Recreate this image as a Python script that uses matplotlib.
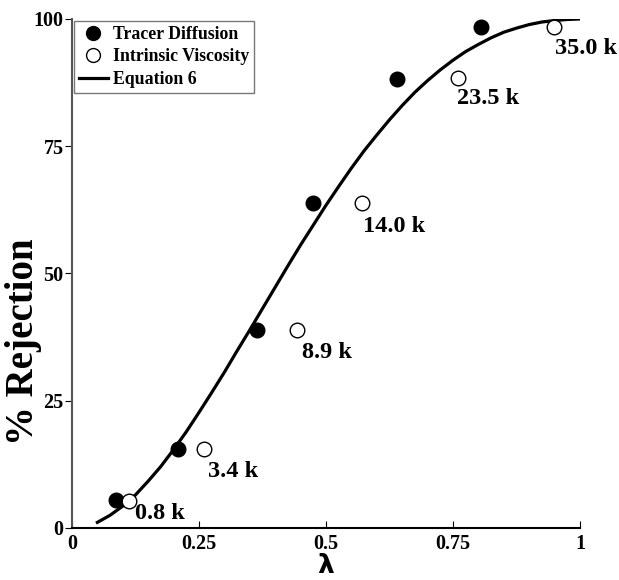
import matplotlib
matplotlib.use('Agg')
import matplotlib.pyplot as plt

plt.rcParams['font.family'] = ['Liberation Serif', 'DejaVu Serif']
plt.rcParams['font.weight'] = 'bold'

# data
tracer_x = [0.087, 0.208, 0.364, 0.474, 0.640, 0.806]
tracer_y = [5.5, 15.5, 38.8, 63.9, 88.3, 98.5]

visc_x = [0.113, 0.260, 0.442, 0.570, 0.760, 0.949]
visc_y = [5.3, 15.5, 38.9, 63.8, 88.5, 98.5]
visc_labels = ['0.8 k', '3.4 k', '8.9 k', '14.0 k', '23.5 k', '35.0 k']

# Equation 6 curve
eq_x = [0.050, 0.075, 0.100, 0.125, 0.150, 0.175, 0.200, 0.225, 0.250, 0.275,
        0.300, 0.325, 0.350, 0.375, 0.400, 0.425, 0.450, 0.475, 0.500, 0.525,
        0.550, 0.575, 0.600, 0.625, 0.650, 0.675, 0.700, 0.725, 0.750, 0.775,
        0.800, 0.825, 0.850, 0.875, 0.900, 0.925, 0.950, 0.975, 1.000]
eq_y = [1.1, 2.5, 4.3, 6.5, 9.2, 12.1, 15.4, 18.9, 22.7, 26.6,
        30.6, 34.8, 38.9, 43.1, 47.3, 51.5, 55.6, 59.5, 63.4, 67.1,
        70.7, 74.1, 77.2, 80.2, 83.0, 85.6, 87.9, 90.0, 91.9, 93.6,
        95.0, 96.3, 97.4, 98.2, 98.9, 99.4, 99.7, 99.9, 100.0]

xticks = [0, 0.25, 0.5, 0.75, 1]
xticklabels = ['0', '0.25', '0.5', '0.75', '1']
yticks = [0, 25, 50, 75, 100]

# label offsets in points (dx, dy)
label_offsets = [(4, -9), (3, -16), (4, -16), (1, -17), (-1, -15), (1, -16)]

fig = plt.figure(figsize=(6.19, 5.8), dpi=100)
ax = fig.add_axes([0.1163, 0.0897, 0.8207, 0.8776])

ax.plot(eq_x, eq_y, color='black', lw=2.3, label='Equation 6', zorder=2,
        solid_joinstyle='round')
ax.plot(tracer_x, tracer_y, 'o', ms=10.5, color='black', mec='black',
        label='Tracer Diffusion', zorder=3)
ax.plot(visc_x, visc_y, 'o', ms=10.5, mfc='white', mec='black', mew=1.0,
        label='Intrinsic Viscosity', zorder=3)

for x, y, t, off in zip(visc_x, visc_y, visc_labels, label_offsets):
    ax.annotate(t, (x, y), xytext=off, textcoords='offset points',
                ha='left', va='center', fontsize=17.5, fontweight='bold')

ax.set_xlim(0, 1)
ax.set_ylim(0, 100)
ax.set_xticks(xticks)
ax.set_xticklabels(xticklabels)
ax.set_yticks(yticks)
ax.tick_params(axis='x', direction='in', length=5, labelsize=14.5, pad=4)
ax.tick_params(axis='y', direction='out', length=5, labelsize=14.5, pad=1)
for lab in ax.get_xticklabels() + ax.get_yticklabels():
    lab.set_fontweight('bold')

ax.spines['top'].set_visible(False)
ax.spines['right'].set_visible(False)
ax.spines['left'].set_color('#555555')
ax.spines['left'].set_linewidth(1.5)
ax.spines['bottom'].set_linewidth(1.5)

ax.set_xlabel('λ', fontsize=19, fontweight='bold', family='DejaVu Sans')
ax.xaxis.set_label_coords(0.5, -0.05)
ax.set_ylabel('% Rejection', fontsize=28, fontweight='bold')
ax.yaxis.set_label_coords(-0.06, 0.365)

handles, labels = ax.get_legend_handles_labels()
order = [1, 2, 0]
leg = ax.legend([handles[i] for i in order], [labels[i] for i in order],
                loc='upper left', bbox_to_anchor=(0.0, 1.0),
                prop={'weight': 'bold', 'size': 12.8}, frameon=True, fancybox=False,
                borderpad=0.3, handlelength=1.6, handletextpad=0.3,
                labelspacing=0.3, borderaxespad=0.1, markerscale=0.95)
leg.get_frame().set_edgecolor('#555555')
leg.get_frame().set_linewidth(1.0)

fig.savefig('out.png', dpi=100)
